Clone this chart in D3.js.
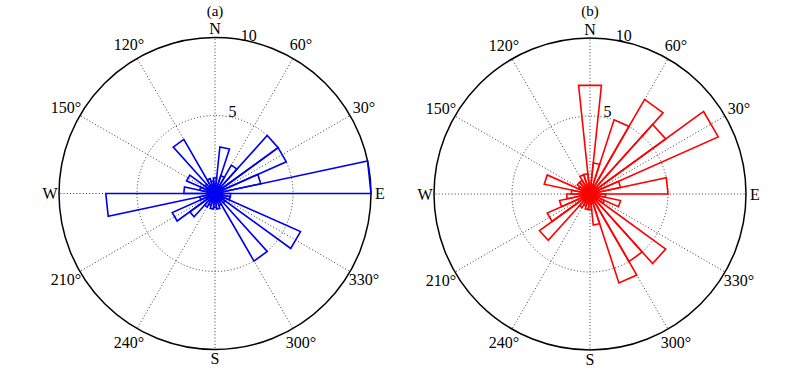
<!DOCTYPE html>
<html>
<head>
<meta charset="utf-8">
<script src="https://cdnjs.cloudflare.com/ajax/libs/d3/7.8.5/d3.min.js"></script>
<style>
    body { margin: 0; background: #fff; }
    text { font-family: "Liberation Serif", "Times New Roman", serif; fill: #000; }
</style>
</head>
<body>
<div id="chart"></div>
<script>
// bin start angles (deg, counter-clockwise from East), 12 degree bins
const binStart = [0, 12, 24, 36, 48, 60, 72, 84, 96, 108, 120, 132, 144, 156, 168,
                  180, 192, 204, 216, 228, 240, 252, 264, 276, 288, 300, 312, 324, 336, 348];
const binWidth = 12;

// counts per bin, panel (a)
const valuesA = [10, 3.0, 5.0, 5.0, 2.1, 1.2, 3.0, 1.0, 0.8, 1.0, 4.0, 0.8, 2.0, 1.0, 2.0,
                 7.0, 1.0, 3.0, 2.0, 1.0, 0.8, 1.0, 0.9, 1.0, 0.8, 5.0, 0.8, 6.0, 1.0, 1.0];
// counts per bin, panel (b)
const valuesB = [5.0, 2.0, 9.0, 6.0, 7.0, 5.0, 2.0, 7.0, 1.3, 1.3, 1.0, 1.0, 0.8, 3.0, 1.2,
                 1.5, 2.0, 3.0, 4.0, 1.0, 0.8, 1.0, 1.0, 2.0, 6.0, 5.0, 6.0, 1.0, 2.0, 1.0];

const spokeAngles = [0, 30, 60, 90, 120, 150, 180, 210, 240, 270, 300, 330];
const angleLabels = ["E", "30°", "60°", "N", "120°", "150°", "W", "210°", "240°", "S", "300°", "330°"];
const radialTicks = [5, 10];
const titles = ["(a)", "(b)"];

const width = 794, height = 374;
const R = 156;

const svg = d3.select("#chart").append("svg")
    .attr("width", width)
    .attr("height", height);

const r = d3.scaleLinear().domain([0, 10]).range([0, R]);
const rad = d => d * Math.PI / 180;
// d3 radial angle: 0 at 12 o'clock, clockwise
const toD3 = deg => Math.PI / 2 - rad(deg);

function drawRose(cx, cy, values, color, title) {
    let g = svg.append("g")
        .attr("transform", "translate(" + cx + "," + cy + ")");

    // spokes
    g.selectAll(".spoke")
        .data(spokeAngles)
        .enter().append("line")
        .attr("class", "spoke")
        .attr("x1", 0).attr("y1", 0)
        .attr("x2", d => r(10) * Math.cos(rad(d)))
        .attr("y2", d => -r(10) * Math.sin(rad(d)))
        .attr("stroke", "#222")
        .attr("stroke-width", 0.9)
        .attr("stroke-dasharray", "1,2.2");

    // inner dotted circle
    g.append("circle")
        .attr("r", r(5))
        .attr("fill", "none")
        .attr("stroke", "#222")
        .attr("stroke-width", 0.9)
        .attr("stroke-dasharray", "1,2.2");

    // outer circle
    g.append("circle")
        .attr("r", r(10))
        .attr("fill", "none")
        .attr("stroke", "#000")
        .attr("stroke-width", 1.5);

    // rose bins (triangles: center -> edge1 -> edge2 -> center)
    let line = d3.lineRadial()
        .angle(d => toD3(d[0]))
        .radius(d => r(d[1]));

    g.selectAll(".bin")
        .data(binStart.map((s, i) => ({start: s, value: values[i]})))
        .enter().append("path")
        .attr("class", "bin")
        .attr("d", d => line([[d.start, 0], [d.start, d.value], [d.start + binWidth, d.value], [d.start + binWidth, 0]]))
        .attr("fill", "none")
        .attr("stroke", color)
        .attr("stroke-width", 1.6)
        .attr("stroke-linejoin", "miter");

    // angle labels
    g.selectAll(".alabel")
        .data(spokeAngles)
        .enter().append("text")
        .attr("class", "alabel")
        .attr("x", (d, i) => (/^[NSEW]$/.test(angleLabels[i]) ? 165 : 172) * Math.cos(rad(d)))
        .attr("y", (d, i) => -(/^[NSEW]$/.test(angleLabels[i]) ? 165 : 172) * Math.sin(rad(d)))
        .attr("text-anchor", "middle")
        .attr("dominant-baseline", "central")
        .style("font-size", "16px")
        .text((d, i) => angleLabels[i]);

    // radial tick labels
    g.selectAll(".rlabel")
        .data(radialTicks)
        .enter().append("text")
        .attr("class", "rlabel")
        .attr("x", d => (r(d) + 6) * Math.cos(rad(78)))
        .attr("y", d => -(r(d) + 6) * Math.sin(rad(78)))
        .attr("text-anchor", "middle")
        .attr("dominant-baseline", "central")
        .style("font-size", "16px")
        .text(d => d);

    // title
    g.append("text")
        .attr("x", 0)
        .attr("y", -183)
        .attr("text-anchor", "middle")
        .attr("dominant-baseline", "central")
        .style("font-size", "15px")
        .text(title);
}

drawRose(215, 193.5, valuesA, "#0000f0", titles[0]);
drawRose(590, 194, valuesB, "#ff0000", titles[1]);
</script>
</body>
</html>
